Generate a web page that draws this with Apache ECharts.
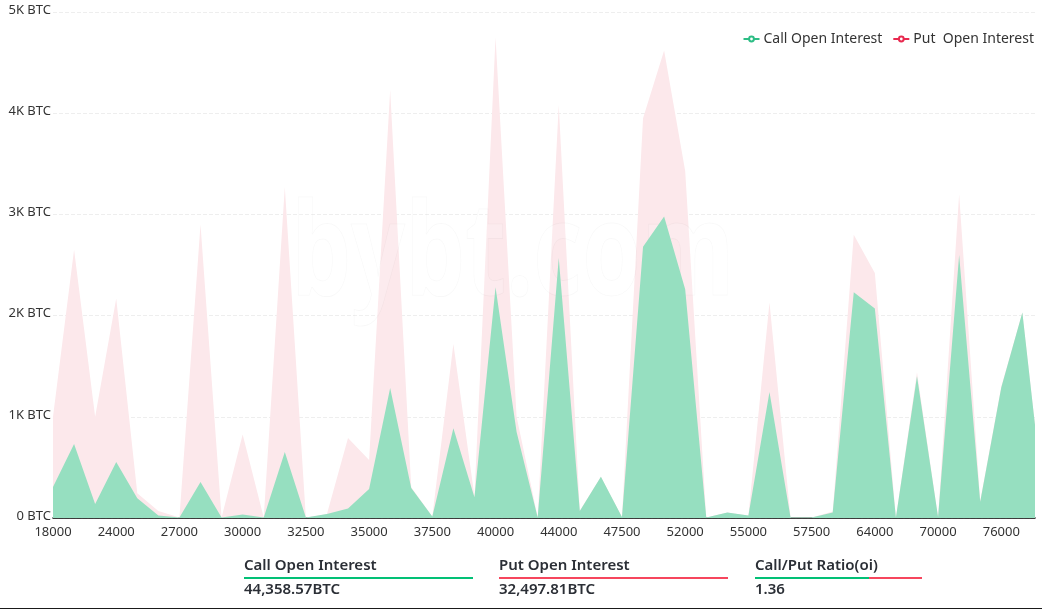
<!DOCTYPE html>
<html>
<head>
<meta charset="utf-8">
<style>
  html, body { margin: 0; padding: 0; background: #fff; }
  #wrap { position: relative; width: 1042px; height: 609px; overflow: hidden; }
  #chart { position: absolute; left: 0; top: 0; width: 1042px; height: 609px; }
  .stat { position: absolute; top: 554px; font-family: "Noto Sans", sans-serif; color: #2b2f36; }
  .stat .name { font-size: 15px; font-weight: 600; line-height: 20px; height: 23px; white-space: nowrap; }
  .stat .rule { height: 1.5px; background: #02c076; }
  .stat .rule i { display: block; float: right; height: 1.5px; background: #f6465d; }
  .stat .num { font-size: 15px; font-weight: 600; line-height: 20px; margin-top: -1px; white-space: nowrap; }
  #bottomline { position: absolute; left: 0; right: 0; top: 608px; height: 1px; background: #1a1a1a; }
</style>
</head>
<body>
<div id="wrap">
  <div id="chart"></div>
  <div class="stat" style="left:244px;width:229px">
    <div class="name">Call Open Interest</div>
    <div class="rule"></div>
    <div class="num">44,358.57BTC</div>
  </div>
  <div class="stat" style="left:499px;width:229px">
    <div class="name">Put Open Interest</div>
    <div class="rule" style="background:#f6465d"></div>
    <div class="num">32,497.81BTC</div>
  </div>
  <div class="stat" style="left:755px;width:167px">
    <div class="name">Call/Put Ratio(oi)</div>
    <div class="rule"><i style="width:53px"></i></div>
    <div class="num">1.36</div>
  </div>
  <div id="bottomline"></div>
</div>
<script src="https://cdn.jsdelivr.net/npm/echarts@6/dist/echarts.min.js"></script>
<script>
// strike prices, one per point
const strikes = [
  18000, 20000, 22000, 24000, 25000, 26000, 27000, 28000, 29000, 30000, 31000, 32000,
  32500, 33000, 34000, 35000, 36000, 37000, 37500, 38000, 39000, 40000, 41000, 42000,
  44000, 45000, 46000, 47500, 48000, 50000, 52000, 53000, 54000, 55000, 56000, 57000,
  57500, 58000, 60000, 64000, 66000, 68000, 70000, 72000, 74000, 76000, 78000, 80000
];
const callOi = [
  306, 730, 138, 553, 195, 25, 5, 355, 5, 35, 5, 652,
  5, 40, 95, 287, 1285, 296, 15, 886, 205, 2280, 850, 5,
  2570, 70, 407, 10, 2680, 2980, 2260, 5, 55, 25, 1245, 5,
  5, 55, 2230, 2070, 5, 1400, 10, 2600, 160, 1290, 2030, 180
];
const putOi = [
  1000, 2650, 1000, 2170, 245, 70, 5, 2900, 5, 825, 5, 3270,
  5, 40, 790, 573, 4230, 305, 15, 1720, 215, 4750, 1000, 10,
  4080, 75, 407, 10, 3950, 4620, 3430, 5, 55, 25, 2130, 5,
  5, 65, 2800, 2420, 5, 1440, 10, 3200, 170, 1300, 2030, 180
];

const GREEN = '#2dbd85';
const RED = '#e8294f';

const chart = echarts.init(document.getElementById('chart'));

function toPairs(values) {
    return values.map((v, i) => [i, v]);
}

chart.setOption({
    animation: false,
    textStyle: { fontFamily: '"Noto Sans", sans-serif' },
    grid: { left: 53, right: 7, top: 12, bottom: 91 },
    legend: {
        right: 3,
        top: 27,
        itemWidth: 16,
        itemHeight: 6,
        itemGap: 10,
        textStyle: { fontSize: 14, color: '#333', padding: [0, 0, 0, -1] },
        lineStyle: { width: 2, opacity: 1 },
        data: ['Call Open Interest', 'Put  Open Interest']
    },
    xAxis: {
        type: 'value',
        min: 0,
        max: 46.6,
        interval: 3,
        splitLine: { show: false },
        axisTick: { show: false },
        axisLine: { lineStyle: { color: '#000', width: 1.5 } },
        axisLabel: {
            showMaxLabel: false,
            color: '#333',
            fontSize: 13,
            margin: 8,
            formatter: (v) => strikes[v]
        }
    },
    yAxis: {
        type: 'value',
        min: 0,
        max: 5000,
        interval: 1000,
        axisLine: { show: false },
        axisTick: { show: false },
        splitLine: { lineStyle: { color: '#eeeeee', type: 'dashed' } },
        axisLabel: {
            color: '#333',
            fontSize: 13,
            margin: 2,
            // labels sit a little above their grid line
            verticalAlign: 'bottom',
            lineHeight: 4,
            formatter: (v) => (v / 1000 ? v / 1000 + 'K' : '0') + ' BTC'
        }
    },
    series: [
        {
            name: 'Put  Open Interest',
            type: 'line',
            data: toPairs(putOi),
            showSymbol: false,
            symbol: 'emptyCircle',
            symbolSize: 6,
            itemStyle: { color: RED },
            lineStyle: { opacity: 0, width: 0 },
            areaStyle: { color: '#fce8eb', opacity: 1 },
            z: 2
        },
        {
            name: 'Call Open Interest',
            type: 'line',
            data: toPairs(callOi),
            showSymbol: false,
            symbol: 'emptyCircle',
            symbolSize: 6,
            itemStyle: { color: GREEN },
            lineStyle: { opacity: 0, width: 0 },
            areaStyle: { color: '#96dfc0', opacity: 1 },
            z: 3
        }
    ],
    graphic: [
        {
            // faint site watermark, squeezed horizontally like the original logo
            type: 'text',
            x: 291,
            y: 193,
            scaleX: 0.73,
            z: 2.5,
            silent: true,
            style: {
                text: 'bybt.com',
                font: 'bold 130px "Open Sans", sans-serif',
                fill: 'rgba(255,255,255,0.15)',
                stroke: 'rgba(0,0,0,0.03)',
                lineWidth: 1
            }
        }
    ]
});
</script>
</body>
</html>
